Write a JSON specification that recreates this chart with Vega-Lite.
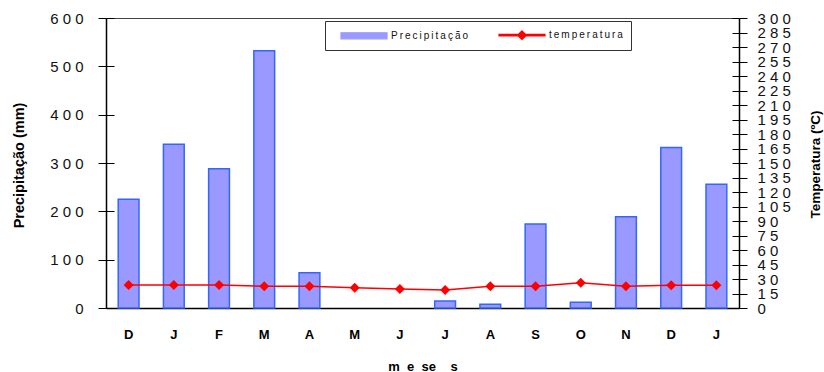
{
  "$schema": "https://vega.github.io/schema/vega-lite/v6.json",
  "autosize": "none",
  "width": 633,
  "height": 290,
  "padding": {"left": 106, "top": 18, "right": 85, "bottom": 64},
  "background": "white",
  "config": {
    "font": "Liberation Sans",
    "view": {"stroke": "#444444", "strokeWidth": 1},
    "axis": {"grid": false, "domainColor": "#000000", "tickColor": "#000000", "labelColor": "#111111", "titleColor": "#000000"}
  },
  "data": {
    "values": [
      {"periodo": "D-1", "precipitacao": 225, "temperatura": 23.8},
      {"periodo": "J-2", "precipitacao": 339, "temperatura": 23.8},
      {"periodo": "F-3", "precipitacao": 288, "temperatura": 23.8},
      {"periodo": "M-4", "precipitacao": 532, "temperatura": 22.4},
      {"periodo": "A-5", "precipitacao": 73, "temperatura": 22.4},
      {"periodo": "M-6", "precipitacao": 0, "temperatura": 21.0},
      {"periodo": "J-7", "precipitacao": 0, "temperatura": 19.7},
      {"periodo": "J-8", "precipitacao": 14.5, "temperatura": 18.6},
      {"periodo": "A-9", "precipitacao": 7.7, "temperatura": 22.4},
      {"periodo": "S-10", "precipitacao": 174, "temperatura": 22.4},
      {"periodo": "O-11", "precipitacao": 12, "temperatura": 26.2},
      {"periodo": "N-12", "precipitacao": 189, "temperatura": 22.4},
      {"periodo": "D-13", "precipitacao": 332, "temperatura": 23.5},
      {"periodo": "J-14", "precipitacao": 256, "temperatura": 23.5}
    ]
  },
  "encoding": {
    "x": {
      "field": "periodo",
      "type": "nominal",
      "sort": null,
      "scale": {"paddingInner": 0.54, "paddingOuter": 0.27},
      "axis": {
        "title": "m\u00a0 e\u00a0 se\u00a0 \u00a0 s",
        "titleFont": "Liberation Sans",
        "titleFontSize": 13,
        "titleFontWeight": "bold",
        "titleBaseline": "alphabetic",
        "titleY": 62,
        "labelExpr": "split(datum.label, '-')[0]",
        "labelAngle": 0,
        "labelFontSize": 13,
        "labelFontWeight": "bold",
        "labelColor": "#000000",
        "labelPadding": 20,
        "ticks": false,
        "tickSize": 0,
        "domainWidth": 1.5
      }
    }
  },
  "layer": [
    {
      "mark": {"type": "bar", "stroke": "#3366ff", "strokeWidth": 1.5},
      "encoding": {
        "y": {
          "field": "precipitacao",
          "type": "quantitative",
          "scale": {"domain": [0, 600], "nice": false},
          "axis": {
            "orient": "left",
            "values": [0, 100, 200, 300, 400, 500, 600],
            "labelExpr": "join(split(datum.label, ''), ' ')",
            "labelFontSize": 15,
            "labelPadding": 15,
            "tickSize": 8,
            "domainWidth": 1.5,
            "title": "Precipitação (mm)",
            "titleFontSize": 14.5,
            "titleFontWeight": "bold",
            "titleAngle": 270,
            "titleAlign": "center",
            "titleBaseline": "middle",
            "titleX": -87,
            "titleY": 147
          }
        },
        "strokeOpacity": {
          "condition": {"test": "datum.precipitacao > 0", "value": 1},
          "value": 0
        },
        "color": {
          "datum": "Precipitação",
          "scale": {"domain": ["Precipitação", "temperatura"], "range": ["#9999ff", "#ff0000"]},
          "legend": {
            "title": null,
            "orient": "none",
            "legendX": 219,
            "legendY": 3,
            "direction": "horizontal",
            "fillColor": "#ffffff",
            "strokeColor": "#333333",
            "padding": 8,
            "symbolSize": 100,
            "symbolType": {"expr": "datum.value == 'Precipitação' ? 'M0.4,-0.6H9.6V0.6H0.4Z' : 'M0.4,-0.15H9.6V0.15H0.4Z M5,-0.85L5.9,0L5,0.85L4.1,0Z'"},
            "symbolStrokeColor": {"expr": "datum.value == 'Precipitação' ? '#3366ff' : '#ff0000'"},
            "symbolStrokeWidth": 1.2,
            "symbolOpacity": 1,
            "labelOffset": 46,
            "columnPadding": 22,
            "labelFont": "Liberation Sans",
            "labelFontSize": 10,
            "labelColor": "#111111",
            "labelExpr": "join(split(datum.label, ''), '\u2009')"
          }
        }
      }
    },
    {
      "mark": {"type": "point", "opacity": 0},
      "encoding": {
        "y": {
          "field": "precipitacao",
          "type": "quantitative",
          "scale": {"domain": [0, 600], "nice": false},
          "axis": {
            "orient": "left",
            "values": [0, 100, 200, 300, 400, 500, 600],
            "labels": false,
            "domain": false,
            "tickSize": -8,
            "title": null
          }
        }
      }
    },
    {
      "mark": {"type": "line", "strokeWidth": 1.5},
      "encoding": {
        "y": {
          "field": "temperatura",
          "type": "quantitative",
          "scale": {"domain": [0, 300], "nice": false},
          "axis": {
            "orient": "right",
            "values": [0, 15, 30, 45, 60, 75, 90, 105, 120, 135, 150, 165, 180, 195, 210, 225, 240, 255, 270, 285, 300],
            "labelExpr": "join(split(datum.label, ''), ' ')",
            "labelFontSize": 15,
            "labelPadding": 10,
            "labelBaseline": "middle",
            "labelOverlap": false,
            "labelFlush": false,
            "tickSize": 8,
            "domainWidth": 1.5,
            "title": "Temperatura (ºC)",
            "titleFontSize": 13.5,
            "titleFontWeight": "bold",
            "titleAngle": 270,
            "titleAlign": "center",
            "titleBaseline": "middle",
            "titleX": 76,
            "titleY": 146
          }
        },
        "color": {"datum": "temperatura"}
      }
    },
    {
      "mark": {"type": "point", "shape": "diamond", "filled": true, "size": 100, "opacity": 1},
      "encoding": {
        "y": {
          "field": "temperatura",
          "type": "quantitative",
          "scale": {"domain": [0, 300], "nice": false},
          "axis": {
            "orient": "right",
            "values": [0, 15, 30, 45, 60, 75, 90, 105, 120, 135, 150, 165, 180, 195, 210, 225, 240, 255, 270, 285, 300],
            "labels": false,
            "domain": false,
            "tickSize": -7,
            "title": null
          }
        },
        "color": {"datum": "temperatura"}
      }
    }
  ],
  "resolve": {"scale": {"y": "independent"}, "axis": {"y": "independent"}}
}
